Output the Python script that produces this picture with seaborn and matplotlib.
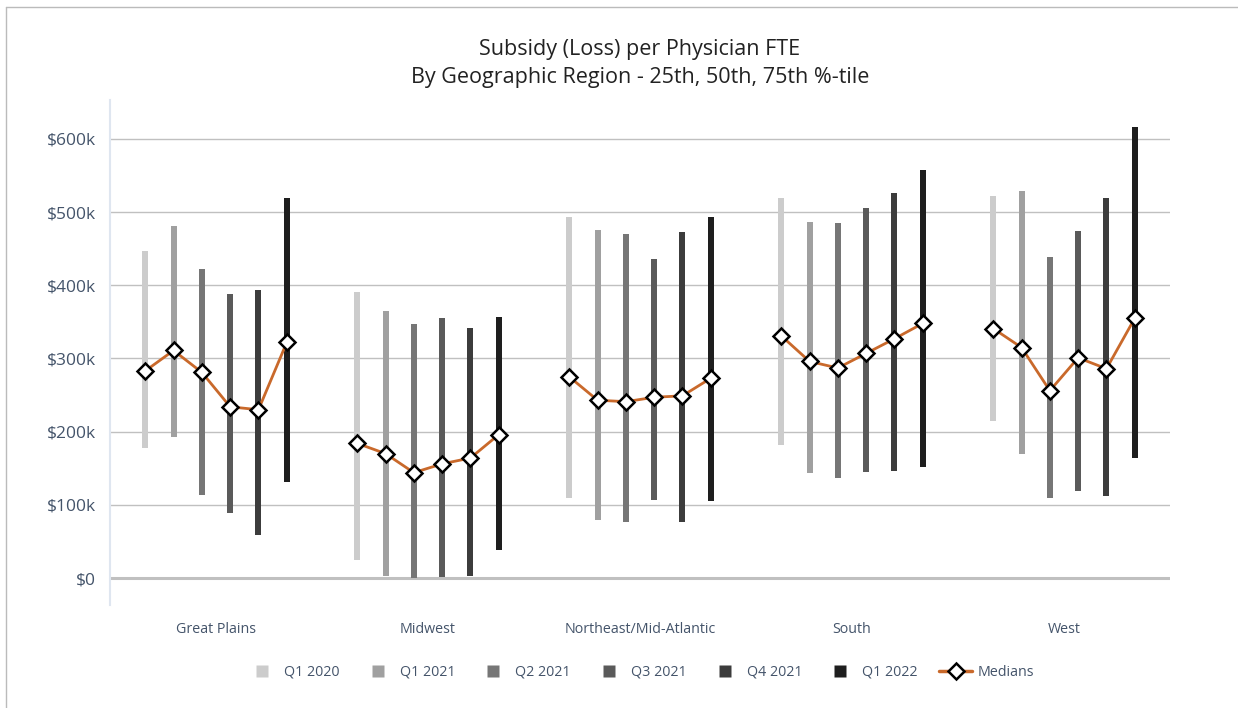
import numpy as np
import pandas as pd
import matplotlib
matplotlib.use("Agg")
import matplotlib.pyplot as plt
from matplotlib.lines import Line2D
import seaborn as sns

regions = ["Great Plains", "Midwest", "Northeast/Mid-Atlantic", "South", "West"]
periods = ["Q1 2020", "Q1 2021", "Q2 2021", "Q3 2021", "Q4 2021", "Q1 2022"]

# values in $k, per region, per period
p25 = {
    "Great Plains":           [177, 193, 114, 89, 59, 131],
    "Midwest":                [25, 3, 0, 1, 3, 38],
    "Northeast/Mid-Atlantic": [110, 79, 77, 106, 77, 105],
    "South":                  [182, 143, 136, 145, 146, 152],
    "West":                   [214, 170, 110, 119, 112, 164],
}
p50 = {
    "Great Plains":           [283, 311, 281, 234, 230, 322],
    "Midwest":                [184, 170, 144, 156, 164, 196],
    "Northeast/Mid-Atlantic": [275, 243, 241, 247, 249, 273],
    "South":                  [331, 296, 287, 307, 327, 348],
    "West":                   [341, 315, 256, 301, 286, 355],
}
p75 = {
    "Great Plains":           [447, 481, 422, 388, 393, 520],
    "Midwest":                [391, 365, 347, 356, 342, 357],
    "Northeast/Mid-Atlantic": [494, 475, 470, 436, 473, 493],
    "South":                  [520, 486, 485, 506, 526, 557],
    "West":                   [522, 529, 439, 474, 519, 616],
}
yticks = [0, 100, 200, 300, 400, 500, 600]
ytick_labels = ["$0", "$100k", "$200k", "$300k", "$400k", "$500k", "$600k"]

period_colors = ["#cccccc", "#a0a0a0", "#767676", "#5a5a5a", "#3c3c3c", "#1e1e1e"]
median_color = "#c9692b"
text_color = "#44546a"

sns.set_theme(style="white")
plt.rcParams["font.family"] = ["Open Sans", "DejaVu Sans"]

rows = []
for i, r in enumerate(regions):
    for j, p in enumerate(periods):
        rows.append({"region": r, "period": p,
                     "xpos": i + (j - 2.5) * 0.1335,
                     "p25": p25[r][j], "p50": p50[r][j], "p75": p75[r][j]})
df = pd.DataFrame(rows)

fig = plt.figure(figsize=(12.38, 7.08), dpi=100)
ax = fig.add_axes([110 / 1238, 103 / 708, 1060 / 1238, 505 / 708])

ax.set_xlim(-0.5, 4.5)
ax.set_ylim(-36.9, 653.3)

# gridlines
for v in yticks:
    ax.axhline(v, color="#c0c0c0", lw=2.2 if v == 0 else 1.0, zorder=0)

# floating bars 25th-75th
for j, p in enumerate(periods):
    sub = df[df["period"] == p]
    ax.bar(sub["xpos"], sub["p75"] - sub["p25"], bottom=sub["p25"],
           width=0.028, color=period_colors[j], zorder=2, linewidth=0)

# medians
sns.lineplot(data=df, x="xpos", y="p50", units="region", estimator=None,
             color=median_color, lw=2.0, marker="D", markersize=8,
             markerfacecolor="white", markeredgecolor="black",
             markeredgewidth=1.8, ax=ax, zorder=4, legend=False)

ax.set_yticks(yticks)
ax.set_yticklabels(ytick_labels, color=text_color, fontsize=12.5)
ax.set_xticks(range(len(regions)))
ax.set_xticklabels(regions, color=text_color, fontsize=10.3)
ax.tick_params(axis="x", length=0, pad=12)
ax.tick_params(axis="y", length=0, pad=10)
ax.set_xlabel("")
ax.set_ylabel("")

for s in ["top", "right", "bottom"]:
    ax.spines[s].set_visible(False)
ax.spines["left"].set_color("#dfe6f0")
ax.spines["left"].set_linewidth(1.5)

fig.text(640 / 1238, 1 - 63.5 / 708,
         "Subsidy (Loss) per Physician FTE\nBy Geographic Region - 25th, 50th, 75th %-tile",
         ha="center", va="center", fontsize=15.5, color="#222222", linespacing=1.4)

handles = [Line2D([0], [0], lw=0, marker="s", markersize=8,
                  markerfacecolor=c, markeredgecolor="none") for c in period_colors]
handles.append(Line2D([0], [0], color=median_color, lw=2.5, marker="D",
                      markersize=8, markerfacecolor="white",
                      markeredgecolor="black", markeredgewidth=1.8))
labels = periods + ["Medians"]
leg = ax.legend(handles, labels, loc="center", bbox_to_anchor=(0.5, -0.133),
                ncol=7, frameon=False, fontsize=10.3, handlelength=2.3,
                columnspacing=1.5, handletextpad=0.4, borderaxespad=0)
for t in leg.get_texts():
    t.set_color(text_color)

# outer border (left and top)
fig.add_artist(Line2D([6 / 1238, 6 / 1238], [0, 1 - 7 / 708], color="#bbbbbb", lw=1,
                      transform=fig.transFigure))
fig.add_artist(Line2D([6 / 1238, 1], [1 - 7 / 708, 1 - 7 / 708], color="#bbbbbb", lw=1,
                      transform=fig.transFigure))

fig.savefig("out.png", dpi=100, facecolor="white")
